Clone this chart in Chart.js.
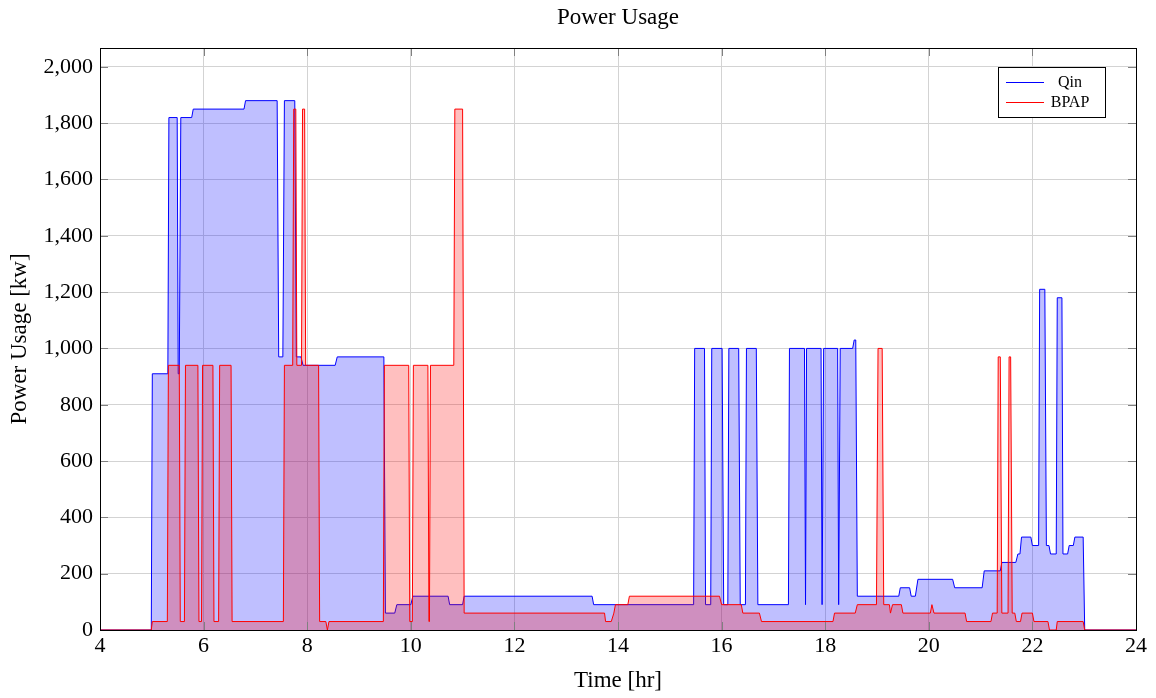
<!DOCTYPE html>
<html>
<head>
<meta charset="utf-8">
<title>Power Usage</title>
<script src="https://cdn.jsdelivr.net/npm/chart.js@4.4.1/dist/chart.umd.min.js"></script>
<style>
  html, body { margin: 0; padding: 0; background: #fff; }
  #wrap { width: 1156px; height: 698px; }
</style>
</head>
<body>
<div id="wrap"><canvas id="myChart" width="1156" height="698"></canvas></div>
<script>
// time in hours, power in kw (step data)
const qinTime = [4, 4.99, 5.01, 5.31, 5.33, 5.49, 5.51, 5.53, 5.56, 5.77, 5.8, 6.78, 6.81, 7.42, 7.45, 7.53, 7.56, 7.76, 7.79, 7.88, 7.92, 8.54, 8.58, 9.48, 9.51, 9.69, 9.73, 10.0, 10.04, 10.72, 10.75, 11.0, 11.03, 13.5, 13.53, 15.46, 15.48, 15.67, 15.69, 15.79, 15.81, 16.01, 16.04, 16.12, 16.14, 16.33, 16.36, 16.46, 16.48, 16.67, 16.7, 17.29, 17.31, 17.6, 17.62, 17.64, 17.92, 17.94, 17.97, 18.24, 18.26, 18.29, 18.53, 18.56, 18.59, 18.62, 19.42, 19.45, 19.63, 19.66, 19.74, 19.79, 20.46, 20.5, 21.03, 21.07, 21.38, 21.41, 21.68, 21.72, 21.76, 21.79, 21.97, 22.0, 22.12, 22.14, 22.24, 22.27, 22.32, 22.35, 22.46, 22.48, 22.57, 22.59, 22.68, 22.71, 22.79, 22.82, 22.98, 23.01, 24];
const qinKw = [0, 0, 910, 910, 1820, 1820, 910, 910, 1820, 1820, 1850, 1850, 1880, 1880, 970, 970, 1880, 1880, 970, 970, 940, 940, 970, 970, 60, 60, 90, 90, 120, 120, 90, 90, 120, 120, 90, 90, 1000, 1000, 90, 90, 1000, 1000, 90, 90, 1000, 1000, 90, 90, 1000, 1000, 90, 90, 1000, 1000, 90, 1000, 1000, 90, 1000, 1000, 90, 1000, 1000, 1030, 1030, 120, 120, 150, 150, 120, 120, 180, 180, 150, 150, 210, 210, 240, 240, 270, 270, 330, 330, 300, 300, 1210, 1210, 300, 300, 270, 270, 1180, 1180, 270, 270, 300, 300, 330, 330, 0, 0];

const bpapTime = [4, 4.99, 5.01, 5.3, 5.32, 5.53, 5.55, 5.63, 5.65, 5.89, 5.91, 5.96, 5.98, 6.18, 6.2, 6.29, 6.31, 6.53, 6.55, 7.54, 7.56, 7.72, 7.74, 7.78, 7.8, 7.89, 7.91, 7.95, 7.97, 8.22, 8.24, 8.36, 8.39, 8.42, 9.47, 9.49, 9.96, 9.98, 10.03, 10.05, 10.33, 10.35, 10.36, 10.38, 10.83, 10.85, 11.0, 11.03, 13.74, 13.76, 13.87, 13.92, 13.95, 14.19, 14.22, 15.96, 16.0, 16.38, 16.41, 16.73, 16.77, 18.15, 18.18, 18.58, 18.62, 18.99, 19.02, 19.1, 19.13, 19.24, 19.26, 19.3, 19.47, 19.5, 20.03, 20.06, 20.1, 20.7, 20.73, 21.2, 21.23, 21.32, 21.34, 21.38, 21.41, 21.53, 21.55, 21.58, 21.61, 21.66, 21.69, 21.77, 21.8, 22.0, 22.03, 22.3, 22.33, 22.46, 22.48, 22.98, 23.01, 24];
const bpapKw = [0, 0, 30, 30, 940, 940, 30, 30, 940, 940, 30, 30, 940, 940, 30, 30, 940, 940, 30, 30, 940, 940, 1850, 1850, 940, 940, 1850, 1850, 940, 940, 30, 30, 0, 30, 30, 940, 940, 30, 30, 940, 940, 30, 30, 940, 940, 1850, 1850, 60, 60, 30, 30, 60, 90, 90, 120, 120, 90, 90, 60, 60, 30, 30, 60, 60, 90, 90, 1000, 1000, 90, 90, 60, 90, 90, 60, 60, 90, 60, 60, 30, 30, 60, 60, 970, 970, 60, 60, 970, 970, 60, 60, 30, 30, 60, 60, 30, 30, 0, 0, 30, 30, 0, 0];

const xTicks = [4, 6, 8, 10, 12, 14, 16, 18, 20, 22, 24];
const yTicks = [0, 200, 400, 600, 800, 1000, 1200, 1400, 1600, 1800, 2000];

const toPoints = (xs, ys) => xs.map((x, i) => ({ x: x, y: ys[i] }));

const serif = '"Liberation Serif", "Times New Roman", serif';

// box, inner tick marks, title and legend like pgfplots
const frame = {
    id: 'frame',
    afterDatasetsDraw(chart) {
        const ctx = chart.ctx;
        const a = chart.chartArea;
        const xs = chart.scales.x, ys = chart.scales.y;
        ctx.save();
        ctx.strokeStyle = '#808080';
        ctx.lineWidth = 1;
        ctx.beginPath();
        for (const t of xTicks) {
            const px = Math.round(xs.getPixelForValue(t)) + 0.5;
            ctx.moveTo(px, a.bottom); ctx.lineTo(px, a.bottom - 8);
            ctx.moveTo(px, a.top); ctx.lineTo(px, a.top + 8);
        }
        for (const t of yTicks) {
            const py = Math.round(ys.getPixelForValue(t)) + 0.5;
            ctx.moveTo(a.left, py); ctx.lineTo(a.left + 8, py);
            ctx.moveTo(a.right, py); ctx.lineTo(a.right - 8, py);
        }
        ctx.stroke();
        ctx.strokeStyle = '#000';
        ctx.strokeRect(Math.round(a.left) + 0.5, Math.round(a.top) + 0.5,
            Math.round(a.right - a.left), Math.round(a.bottom - a.top));

        // title
        ctx.fillStyle = '#000';
        ctx.font = '23px ' + serif;
        ctx.textAlign = 'center';
        ctx.textBaseline = 'middle';
        ctx.fillText('Power Usage', (a.left + a.right) / 2, 18);

        // legend
        const lx = a.right - 138, ly = a.top + 19;
        ctx.fillStyle = '#fff';
        ctx.fillRect(lx, ly, 107, 50);
        ctx.strokeStyle = '#000';
        ctx.strokeRect(lx + 0.5, ly + 0.5, 107, 50);
        const items = [['Qin', '#0000ff', 15], ['BPAP', '#ff0000', 35]];
        ctx.font = '16px ' + serif;
        for (const [label, col, dy] of items) {
            ctx.strokeStyle = col;
            ctx.beginPath();
            ctx.moveTo(lx + 8, ly + dy + 0.5);
            ctx.lineTo(lx + 46, ly + dy + 0.5);
            ctx.stroke();
            ctx.fillStyle = '#000';
            ctx.fillText(label, lx + 72, ly + dy + 1);
        }
        ctx.restore();
    }
};

const ctx = document.getElementById('myChart').getContext('2d');
const myChart = new Chart(ctx, {
    type: 'line',
    data: {
        datasets: [{
            label: 'Qin',
            data: toPoints(qinTime, qinKw),
            borderColor: '#0000ff',
            backgroundColor: 'rgba(0, 0, 255, 0.25)',
            borderWidth: 1,
            pointRadius: 0,
            tension: 0,
            fill: 'origin',
            order: 1
        }, {
            label: 'BPAP',
            data: toPoints(bpapTime, bpapKw),
            borderColor: '#ff0000',
            backgroundColor: 'rgba(255, 0, 0, 0.25)',
            borderWidth: 1,
            pointRadius: 0,
            tension: 0,
            fill: 'origin',
            order: 0
        }]
    },
    options: {
        responsive: false,
        animation: false,
        locale: 'en-US',
        layout: { padding: { top: 48, right: 20, left: 0, bottom: 0 } },
        plugins: {
            legend: { display: false },
            title: { display: false },
            tooltip: { enabled: false }
        },
        scales: {
            x: {
                type: 'linear',
                min: 4,
                max: 24,
                afterFit: (scale) => { scale.height = 68; },
                ticks: {
                    stepSize: 2,
                    padding: 3,
                    color: '#000',
                    font: { family: serif, size: 22 }
                },
                grid: { color: '#d3d3d3', drawTicks: false },
                border: { display: false },
                title: {
                    display: true,
                    text: 'Time [hr]',
                    color: '#000',
                    font: { family: serif, size: 23 },
                    padding: { top: 0, bottom: 3 }
                }
            },
            y: {
                min: 0,
                max: 2067,
                afterFit: (scale) => { scale.width = 100; },
                ticks: {
                    stepSize: 200,
                    includeBounds: false,
                    padding: 7,
                    color: '#000',
                    font: { family: serif, size: 22 }
                },
                grid: { color: '#d3d3d3', drawTicks: false },
                border: { display: false },
                title: {
                    display: true,
                    text: 'Power Usage [kw]',
                    color: '#000',
                    font: { family: serif, size: 23 },
                    padding: { top: 6, bottom: 0 }
                }
            }
        }
    },
    plugins: [frame]
});
</script>
</body>
</html>
